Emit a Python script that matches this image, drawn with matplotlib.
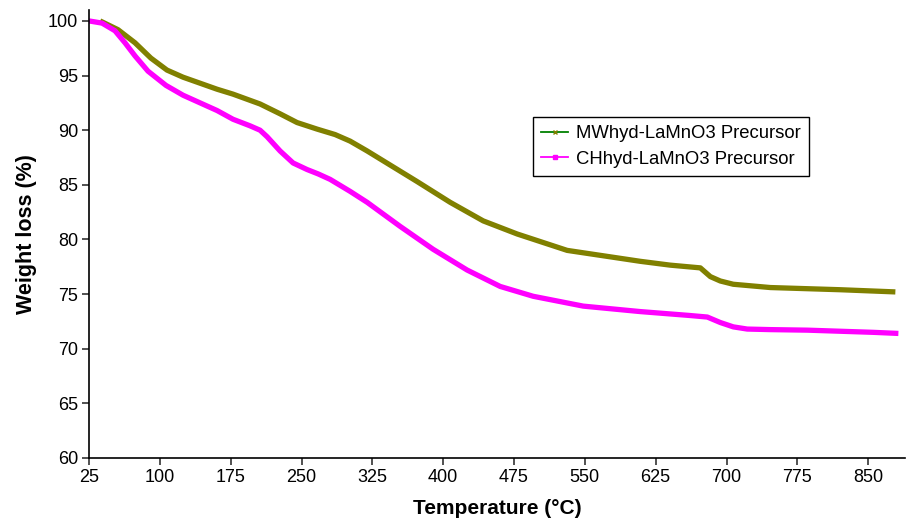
import matplotlib
matplotlib.use("Agg")
import matplotlib.pyplot as plt
from matplotlib.lines import Line2D

mw_temp = [36.7, 55.7, 73.7, 90.5, 107.6, 124.6, 142.6, 160.6, 177.5, 206.1, 227.3,
           245.3, 266.5, 285.6, 301.5, 319.5, 372.4, 407.4, 442.4, 478.4, 531.3,
           608.7, 640.4, 672.3, 682.9, 693.4, 707.2, 746.4, 820.5, 878.8]
mw_weight = [100.0, 99.2, 98.0, 96.6, 95.5, 94.85, 94.3, 93.75, 93.3, 92.4, 91.5,
             90.7, 90.1, 89.6, 89.0, 88.1, 85.3, 83.4, 81.7, 80.5, 79.0,
             78.0, 77.65, 77.4, 76.6, 76.2, 75.9, 75.6, 75.4, 75.2]

ch_temp = [25.0, 38.8, 52.5, 63.1, 73.7, 87.5, 106.5, 124.6, 142.6, 160.6, 177.5,
           195.5, 206.1, 213.6, 227.3, 241.1, 255.9, 267.6, 280.3, 301.5, 319.5,
           354.4, 389.4, 425.4, 460.4, 495.3, 548.3, 608.7, 660.0, 679.7, 693.4,
           707.2, 722.0, 746.4, 785.6, 855.5, 882.0]
ch_weight = [100.0, 99.8, 99.1, 98.0, 96.8, 95.4, 94.1, 93.2, 92.5, 91.8, 91.0,
             90.4, 90.0, 89.4, 88.1, 87.0, 86.4, 86.0, 85.5, 84.4, 83.4,
             81.2, 79.1, 77.2, 75.7, 74.8, 73.9, 73.4, 73.05, 72.9, 72.4,
             72.0, 71.8, 71.75, 71.7, 71.5, 71.4]

x_ticks = [25, 100, 175, 250, 325, 400, 475, 550, 625, 700, 775, 850]
y_ticks = [60, 65, 70, 75, 80, 85, 90, 95, 100]

plt.rcParams['font.family'] = ['Liberation Sans', 'DejaVu Sans']

fig = plt.figure(figsize=(9.06, 5.20), dpi=100)
ax = fig.add_axes([89/906, 1-458/520, (905-89)/906, (458-10)/520])

ax.plot(mw_temp, mw_weight, color='#808000', lw=3.8, solid_capstyle='butt',
        solid_joinstyle='round')
ax.plot(ch_temp, ch_weight, color='#FF00FF', lw=3.8, solid_capstyle='butt',
        solid_joinstyle='round')

ax.set_xlim(25, 889)
ax.set_ylim(60, 101)
ax.set_xticks(x_ticks)
ax.set_yticks(y_ticks)
ax.set_xticklabels([str(t) for t in x_ticks], fontsize=13)
ax.set_yticklabels([str(t) for t in y_ticks], fontsize=13)
ax.tick_params(direction='out', length=5, width=1.2, color='#333333', pad=3)
for s in ['top', 'right']:
    ax.spines[s].set_visible(False)
for s in ['left', 'bottom']:
    ax.spines[s].set_linewidth(1.2)
    ax.spines[s].set_color('black')

ax.set_xlabel('Temperature (°C)', fontsize=15, fontweight='bold', labelpad=9)
ax.set_ylabel('Weight loss (%)', fontsize=15.5, fontweight='bold', labelpad=8)

handles = [
    Line2D([], [], color='#008000', lw=1.3, marker='x', markersize=3,
           markeredgecolor='#808000', markerfacecolor='#808000'),
    Line2D([], [], color='#FF00FF', lw=1.3, marker='s', markersize=3,
           markeredgecolor='#FF00FF', markerfacecolor='#FF00FF'),
]
leg = ax.legend(handles, ['MWhyd-LaMnO3 Precursor', 'CHhyd-LaMnO3 Precursor'],
                loc='upper left', bbox_to_anchor=((533-89)/816, 1-(117-10)/448),
                fontsize=13.3, frameon=True, fancybox=False, framealpha=1,
                edgecolor='black', handlelength=1.45, borderpad=0.45,
                labelspacing=0.45, handletextpad=0.45, borderaxespad=0)
leg.get_frame().set_linewidth(1.0)

fig.savefig('out.png', dpi=100)
